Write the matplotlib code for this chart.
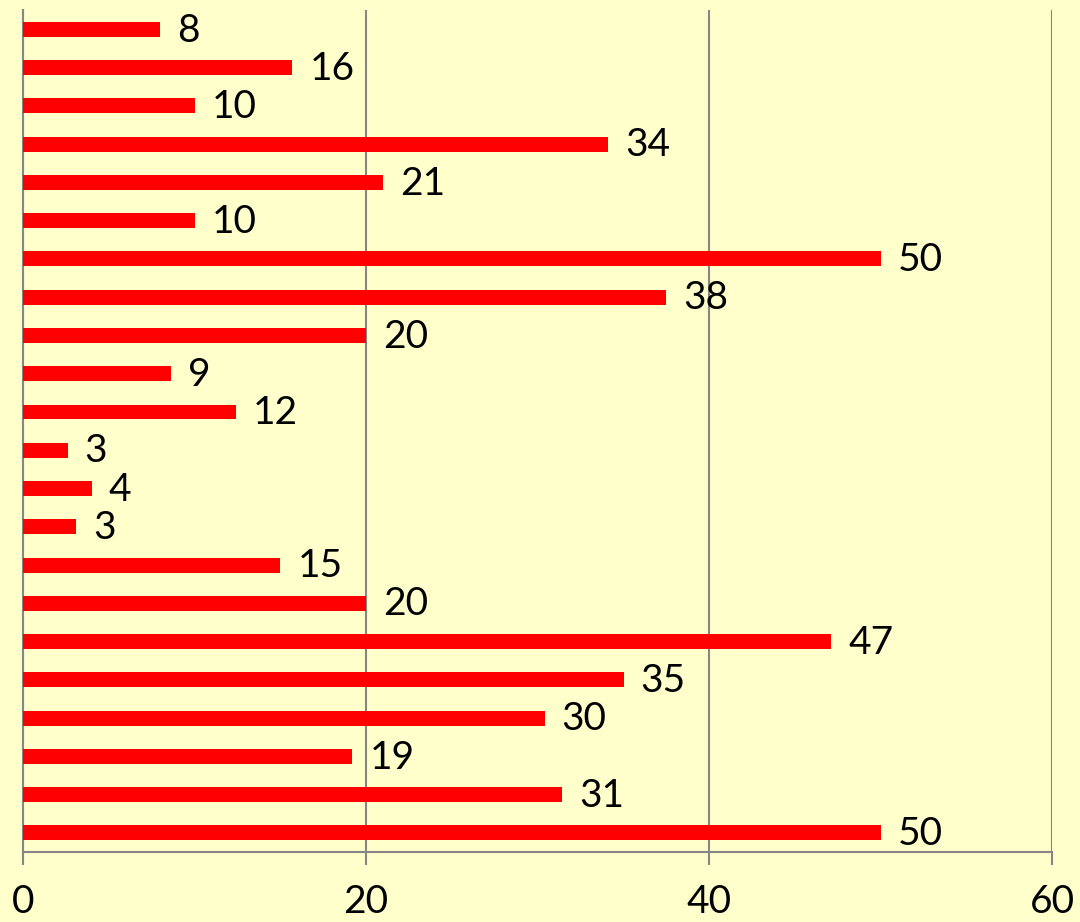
import matplotlib.pyplot as plt

# bar lengths from top bar to bottom bar (labels show them rounded)
values = [8.0, 15.7, 10.0, 34.1, 21.0, 10.0, 50.0, 37.5, 20.0, 8.6, 12.4,
          2.6, 4.0, 3.1, 15.0, 20.0, 47.1, 35.0, 30.4, 19.2, 31.4, 50.0]
xticks = [0, 20, 40, 60]

plt.rcParams['font.family'] = ['Lato', 'DejaVu Sans']

bg = "#FFFFCC"
grid_col = "#868686"

fig = plt.figure(figsize=(10.8, 9.22), dpi=100, facecolor=bg)
ax = fig.add_axes([0.0213, 0.0759, 0.9532, 0.913])
ax.set_facecolor(bg)

pos = list(range(len(values)))
ax.barh(pos, values, height=0.39, color="#FF0000", zorder=3)
for p, v in zip(pos, values):
    ax.text(v + 1.0, p + 0.03, "%.0f" % v, va="center", ha="left", fontsize=28, color="black", zorder=4)

ax.set_xlim(0, 60)
ax.set_ylim(len(values) - 0.5, -0.5)
ax.set_xticks(xticks)
ax.set_xticklabels([str(t) for t in xticks], fontsize=28)
ax.set_yticks([])
ax.tick_params(axis="x", length=9, width=1.5, color=grid_col, pad=14)

ax.grid(axis="x", color=grid_col, linewidth=1.5, zorder=0)
for s in ["top", "right"]:
    ax.spines[s].set_visible(False)
for s in ["left", "bottom"]:
    ax.spines[s].set_color(grid_col)
    ax.spines[s].set_linewidth(1.5)

fig.savefig("out.png", dpi=100, facecolor=bg)
